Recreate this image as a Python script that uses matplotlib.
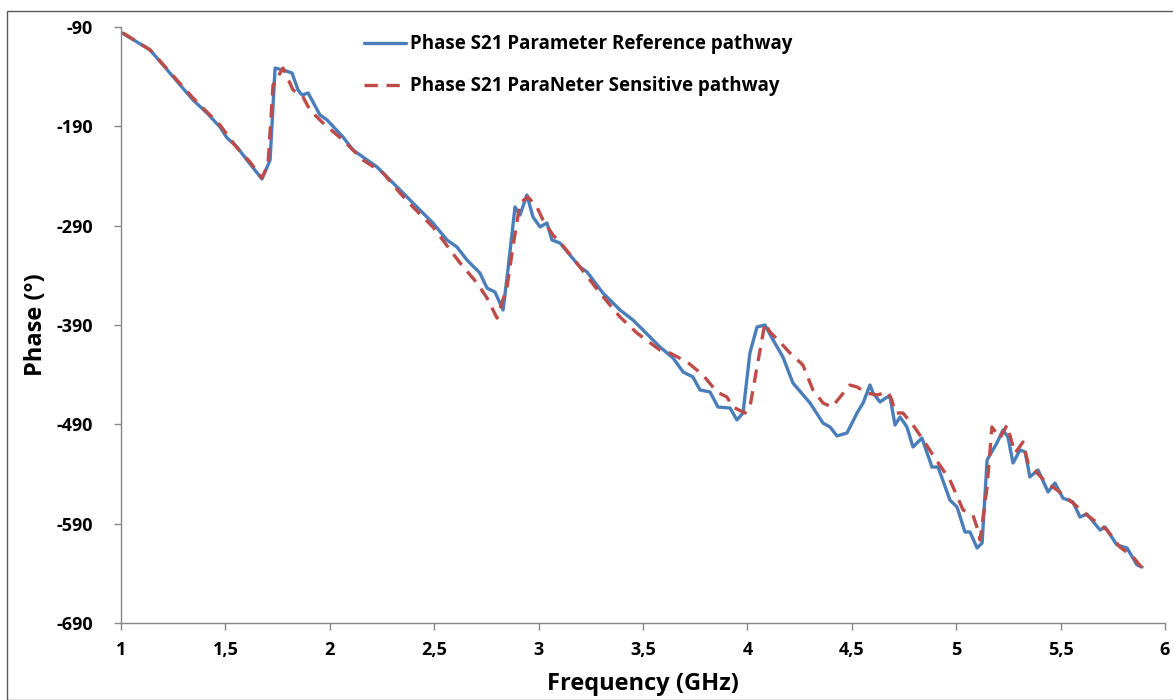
import matplotlib
matplotlib.use("Agg")
import matplotlib.pyplot as plt
from matplotlib.patches import Rectangle

# --- data (GHz, degrees) ---
freq_ref = [1.005, 1.139, 1.345, 1.412, 1.474, 1.508, 1.556, 1.603, 1.675, 1.714,
            1.738, 1.776, 1.819, 1.848, 1.867, 1.896, 1.953, 1.987, 2.063, 2.111,
            2.226, 2.351, 2.398, 2.494, 2.561, 2.609, 2.657, 2.719, 2.753, 2.791,
            2.830, 2.853, 2.887, 2.911, 2.944, 2.973, 3.007, 3.040, 3.064, 3.102,
            3.198, 3.232, 3.308, 3.390, 3.452, 3.500, 3.581, 3.644, 3.692, 3.739,
            3.773, 3.821, 3.859, 3.917, 3.950, 3.979, 4.012, 4.046, 4.084, 4.123,
            4.170, 4.218, 4.300, 4.362, 4.396, 4.429, 4.477, 4.525, 4.554, 4.587,
            4.602, 4.635, 4.669, 4.683, 4.707, 4.731, 4.764, 4.793, 4.836, 4.884,
            4.913, 4.970, 5.004, 5.042, 5.066, 5.100, 5.124, 5.148, 5.195, 5.224,
            5.248, 5.272, 5.306, 5.330, 5.353, 5.392, 5.440, 5.473, 5.511, 5.559,
            5.593, 5.626, 5.689, 5.713, 5.770, 5.818, 5.866, 5.890]
phase_ref = [-96, -113, -163.5, -176.6, -190.7, -201.7, -210.8, -223.9, -243, -223.9,
             -131.3, -133.3, -136.3, -153.4, -158.5, -156.4, -178.6, -183.6, -200.7, -213.8,
             -230.9, -257.1, -267.2, -287.3, -304.4, -311.5, -324.6, -337.7, -352.8, -356.8,
             -374.9, -334.6, -271.2, -279.3, -259.1, -281.3, -291.3, -287.3, -304.4, -307.4,
             -331.6, -336.6, -357.8, -374.9, -385.0, -395.0, -412.1, -423.2, -437.3, -442.3,
             -455.4, -457.4, -472.6, -473.6, -485.6, -478.6, -418.2, -392.0, -390.0, -405.1,
             -422.2, -448.4, -468.5, -488.7, -492.7, -501.7, -498.7, -478.6, -468.5, -450.4,
             -458.5, -467.5, -462.5, -462.5, -490.7, -482.6, -492.7, -512.8, -503.8, -533.0,
             -533.0, -566.2, -573.2, -598.4, -598.4, -614.5, -609.5, -525.9, -508.8, -495.7,
             -502.8, -528.9, -515.8, -517.8, -543.0, -536.0, -558.1, -549.1, -564.2, -568.2,
             -583.3, -580.3, -596.4, -593.4, -611.5, -614.5, -631.6, -633.6]

freq_sens = [1.010, 1.139, 1.345, 1.474, 1.556, 1.618, 1.675, 1.704, 1.728, 1.776,
             1.824, 1.872, 1.905, 1.967, 2.063, 2.159, 2.255, 2.336, 2.398, 2.494,
             2.624, 2.705, 2.753, 2.801, 2.849, 2.877, 2.911, 2.949, 2.992, 3.021,
             3.069, 3.102, 3.198, 3.294, 3.390, 3.471, 3.581, 3.629, 3.711, 3.787,
             3.854, 3.902, 3.931, 3.989, 4.012, 4.046, 4.084, 4.108, 4.156, 4.204,
             4.266, 4.314, 4.362, 4.405, 4.444, 4.491, 4.525, 4.573, 4.621, 4.673,
             4.692, 4.707, 4.745, 4.793, 4.836, 4.898, 4.970, 5.033, 5.080, 5.104,
             5.114, 5.148, 5.171, 5.210, 5.243, 5.282, 5.320, 5.344, 5.387, 5.435,
             5.483, 5.559, 5.626, 5.722, 5.784, 5.847, 5.890]
phase_sens = [-96, -113, -161.5, -188.7, -211.8, -225.9, -242, -228.9, -148.4, -131.3,
              -153.4, -160.5, -173.6, -186.6, -203.8, -223.9, -237.0, -257.1, -271.2, -291.3,
              -327.6, -347.7, -362.8, -383.0, -351.7, -311.5, -267.2, -261.1, -271.2, -284.3,
              -299.4, -306.4, -331.6, -357.8, -381.9, -398.1, -415.2, -418.2, -427.2, -440.3,
              -457.4, -462.5, -472.6, -478.6, -472.6, -432.3, -388.0, -397.0, -407.1, -418.2,
              -430.3, -455.4, -468.5, -472.6, -462.5, -450.4, -452.4, -458.5, -460.5, -457.4,
              -465.5, -478.6, -478.6, -490.7, -503.8, -523.9, -546.0, -576.2, -581.3, -596.4,
              -606.4, -553.1, -492.7, -503.8, -490.7, -518.9, -507.8, -528.9, -539.0, -549.1,
              -556.1, -569.2, -581.3, -596.4, -613.5, -623.5, -634.6]

x_ticks = [1, 1.5, 2, 2.5, 3, 3.5, 4, 4.5, 5, 5.5, 6]
x_ticklabels = ['1', '1,5', '2', '2,5', '3', '3,5', '4', '4,5', '5', '5,5', '6']
y_ticks = [-690, -590, -490, -390, -290, -190, -90]

plt.rcParams['font.family'] = ['Open Sans', 'DejaVu Sans']
plt.rcParams['axes.unicode_minus'] = False

fig = plt.figure(figsize=(11.73, 7.0), dpi=100)
ax = fig.add_axes([121/1173, 1 - 623/700, (1165 - 121)/1173, (623 - 27)/700])

ax.plot(freq_ref, phase_ref, color='#4A7EBB', lw=2.4, solid_joinstyle='round',
        solid_capstyle='round', label='Phase S21 Parameter Reference pathway', zorder=2)
ax.plot(freq_sens, phase_sens, color='#BE4B48', lw=2.4, dashes=(4, 2.6),
        label='Phase S21 ParaNeter Sensitive pathway', zorder=3)

ax.set_xlim(1, 6)
ax.set_ylim(-690, -90)
ax.set_xticks(x_ticks)
ax.set_xticklabels(x_ticklabels)
ax.set_yticks(y_ticks)

for s in ['top', 'right']:
    ax.spines[s].set_visible(False)
for s in ['left', 'bottom']:
    ax.spines[s].set_color('#868686')
    ax.spines[s].set_linewidth(1.0)
ax.tick_params(axis='both', color='#868686', length=5, width=1.0, direction='out',
               labelsize=13)
ax.tick_params(axis='y', pad=15)
ax.tick_params(axis='x', pad=8)
for lab in ax.get_xticklabels() + ax.get_yticklabels():
    lab.set_fontweight('bold')

ax.set_xlabel('Frequency (GHz)', fontsize=17, fontweight='bold', labelpad=9)
ax.set_ylabel('Phase (°)', fontsize=17, fontweight='bold', labelpad=6)

leg = ax.legend(loc='upper left', bbox_to_anchor=(0.226, 1.0), frameon=False,
                prop={'weight': 'bold', 'size': 13.5}, handlelength=2.2,
                handletextpad=0.25, labelspacing=1.15, borderaxespad=0)

fig.patches.append(Rectangle((7/1173, 0.5/700), 1.2, 1 - 11/700 - 0.5/700,
                             transform=fig.transFigure, fill=False,
                             edgecolor='#595959', lw=1.0))

fig.savefig('out.png', dpi=100)
